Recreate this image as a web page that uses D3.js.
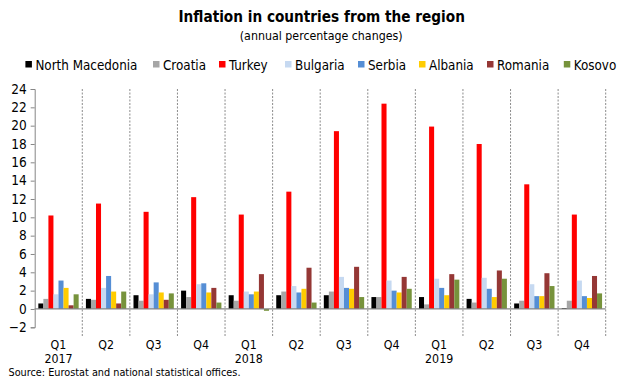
<!DOCTYPE html>
<html>
<head>
<meta charset="utf-8">
<script src="https://cdn.jsdelivr.net/npm/d3@7"></script>
<style>
  html, body { margin: 0; padding: 0; background: #fff; }
  svg { display: block; }
  text { font-family: "DejaVu Sans Condensed", "DejaVu Sans", sans-serif; fill: #000; }
</style>
</head>
<body>
<svg id="chart" width="618" height="378"></svg>
<script>
// Quarterly categories and year labels shown under the first quarter of each year
const quarters = ["Q1", "Q2", "Q3", "Q4", "Q1", "Q2", "Q3", "Q4", "Q1", "Q2", "Q3", "Q4"];
const years = ["2017", "", "", "", "2018", "", "", "", "2019", "", "", ""];

const countries = ["North Macedonia", "Croatia", "Turkey", "Bulgaria", "Serbia", "Albania", "Romania", "Kosovo"];
const colors = ["#000000", "#a6a6a6", "#ff0000", "#c6d9f1", "#558ed5", "#ffcc00", "#953735", "#77933c"];

// Annual inflation, %, per quarter 2017Q1..2019Q4
const northMacedonia = [0.6, 1.1, 1.5, 2.0, 1.5, 1.5, 1.5, 1.3, 1.3, 1.1, 0.6, 0.1];
const croatia        = [1.1, 1.0, 0.9, 1.3, 0.9, 1.9, 1.9, 1.3, 0.5, 0.7, 0.9, 0.9];
const turkey         = [10.2, 11.5, 10.6, 12.2, 10.3, 12.8, 19.4, 22.4, 19.9, 18.0, 13.6, 10.3];
const bulgaria       = [1.6, 2.3, 1.6, 2.7, 1.9, 2.5, 3.5, 3.1, 3.3, 3.4, 2.7, 3.1];
const serbia         = [3.1, 3.6, 2.9, 2.8, 1.6, 1.8, 2.3, 2.0, 2.3, 2.2, 1.4, 1.4];
const albania        = [2.3, 1.9, 1.8, 1.8, 1.9, 2.2, 2.2, 1.8, 1.5, 1.3, 1.4, 1.2];
const romania        = [0.4, 0.6, 1.0, 2.3, 3.8, 4.5, 4.6, 3.5, 3.8, 4.2, 3.9, 3.6];
const kosovo         = [1.6, 1.9, 1.7, 0.7, -0.2, 0.7, 1.3, 2.2, 3.2, 3.3, 2.5, 1.7];

const series = [northMacedonia, croatia, turkey, bulgaria, serbia, albania, romania, kosovo];

const yTicks = d3.range(-2, 25, 2);

const svg = d3.select("#chart");

const plot = { left: 34.7, right: 605.7, top: 89, bottom: 327.3 };

const x0 = d3.scaleBand()
  .domain(d3.range(quarters.length))
  .range([plot.left, plot.right])
  .paddingInner(0).paddingOuter(0);

const x1 = d3.scaleBand()
  .domain(countries)
  .range([0, x0.bandwidth()])
  .paddingInner(0).paddingOuter(0.72);

const y = d3.scaleLinear().domain([-2, 24]).range([plot.bottom, plot.top]);

// Title block
svg.append("text")
  .attr("x", (plot.left + plot.right) / 2 + 1.5).attr("y", 22)
  .attr("text-anchor", "middle")
  .style("font-weight", "bold").style("font-size", "15.2px")
  .text("Inflation in countries from the region");

svg.append("text")
  .attr("x", (plot.left + plot.right) / 2 + 1).attr("y", 40)
  .attr("text-anchor", "middle")
  .style("font-size", "12.3px")
  .text("(annual percentage changes)");

// Legend
const legendX = [25.4, 153, 219, 285, 358, 419, 487, 563.8];
const legend = svg.append("g").selectAll("g")
  .data(countries)
  .join("g")
  .attr("transform", (d, i) => `translate(${legendX[i]},0)`);
legend.append("rect")
  .attr("x", 0).attr("y", 61).attr("width", 6.5).attr("height", 6.5)
  .attr("fill", (d, i) => colors[i]);
legend.append("text")
  .attr("x", 10).attr("y", 69.5)
  .style("font-size", "13.3px")
  .text(d => d);

// Vertical dashed separators between quarters
const seps = d3.range(1, quarters.length + 1).map(i => plot.left + i * x0.step());
svg.append("g").selectAll("line")
  .data(seps)
  .join("line")
  .attr("x1", d => d).attr("x2", d => d)
  .attr("y1", plot.top).attr("y2", 336)
  .attr("stroke", "#8c8c8c").attr("stroke-width", 1)
  .attr("stroke-dasharray", "2,1.5");

// Y axis
const yAxis = svg.append("g")
  .attr("transform", `translate(${plot.left},0)`)
  .call(d3.axisLeft(y).tickValues(yTicks).tickSize(4).tickPadding(4).tickFormat(d3.format("d")));
yAxis.select(".domain").attr("stroke", "#868686");
yAxis.selectAll(".tick line").attr("stroke", "#868686");
yAxis.selectAll(".tick text")
  .style("font-family", "\"DejaVu Sans Condensed\", \"DejaVu Sans\", sans-serif")
  .style("font-size", "13.5px").attr("fill", "#000");

// Bars
const groups = svg.append("g").selectAll("g")
  .data(quarters.map((q, qi) => qi))
  .join("g")
  .attr("transform", qi => `translate(${x0(qi)},0)`);

groups.selectAll("rect")
  .data(qi => series.map((s, ci) => ({ country: countries[ci], value: s[qi], color: colors[ci] })))
  .join("rect")
  .attr("x", d => x1(d.country))
  .attr("width", x1.bandwidth())
  .attr("y", d => y(Math.max(0, d.value)))
  .attr("height", d => Math.abs(y(d.value) - y(0)))
  .attr("fill", d => d.color);

// Category axis at zero
svg.append("line")
  .attr("x1", plot.left).attr("x2", plot.right)
  .attr("y1", y(0)).attr("y2", y(0))
  .attr("stroke", "#868686").attr("stroke-width", 1.2);

// Quarter and year labels
const labels = svg.append("g").selectAll("g")
  .data(quarters.map((q, i) => i))
  .join("g");
labels.append("text")
  .attr("x", i => x0(i) + x0.bandwidth() / 2)
  .attr("y", 348.5)
  .attr("text-anchor", "middle")
  .style("font-size", "12.3px")
  .text(i => quarters[i]);
labels.append("text")
  .attr("x", i => x0(i) + x0.bandwidth() / 2)
  .attr("y", 362.5)
  .attr("text-anchor", "middle")
  .style("font-size", "12.3px")
  .text(i => years[i]);

// Source note
svg.append("text")
  .attr("x", 8.5).attr("y", 376)
  .style("font-size", "10.8px")
  .text("Source: Eurostat and national statistical offices.");
</script>
</body>
</html>
